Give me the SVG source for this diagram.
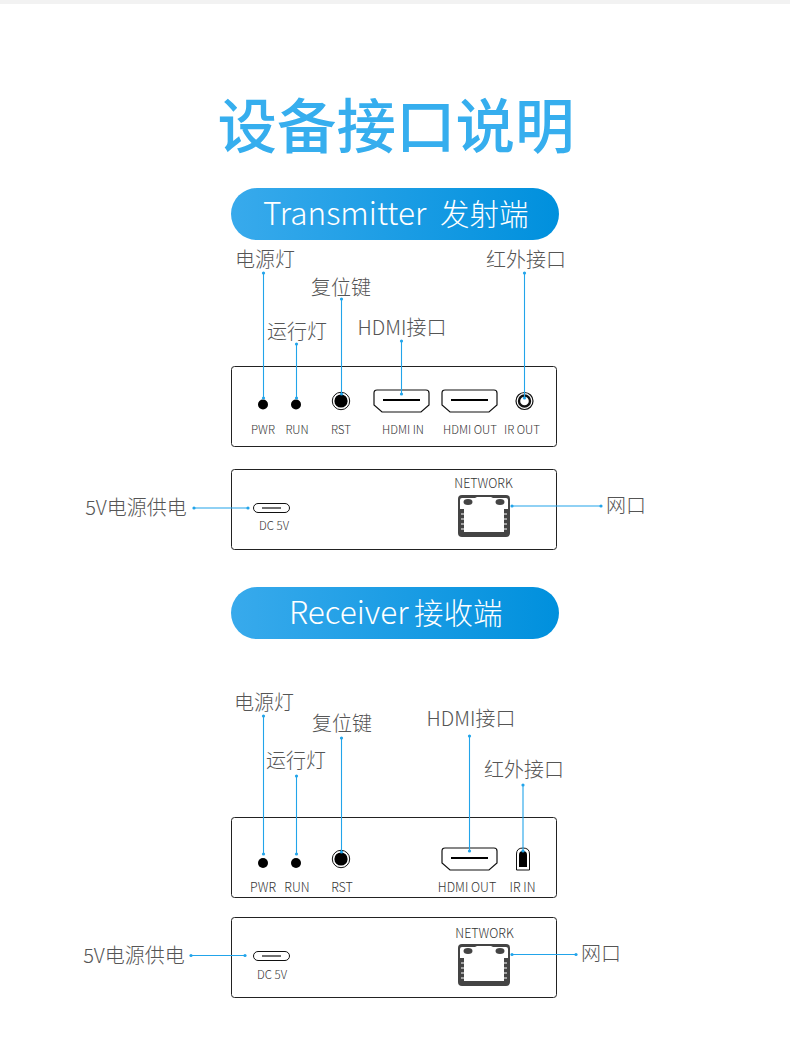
<svg xmlns="http://www.w3.org/2000/svg" width="790" height="1053" viewBox="0 0 790 1053">
<style>
text{font-family:"Noto Sans CJK SC","Noto Sans",sans-serif;text-anchor:middle}
.lab{font-size:20px;font-weight:300;fill:#555}
.sm{font-size:11.5px;font-weight:300;fill:#333}
.sm2{font-size:12.5px;font-weight:300;fill:#333}
.pill{font-size:31.5px;font-weight:300;fill:#fff;text-anchor:start}
.cjk{font-size:29.5px}
.panel{fill:#fff;stroke:#222;stroke-width:1}
.hd{fill:#fff;stroke:#111;stroke-width:1.2}
.slot{stroke:#000;stroke-width:2;fill:none}
.conn{stroke:#22a4ea;stroke-width:1.1;fill:none;marker-start:url(#d);marker-end:url(#d)}
</style>
<defs>
<marker id="d" markerUnits="userSpaceOnUse" markerWidth="5" markerHeight="5" refX="2.5" refY="2.5"><circle cx="2.5" cy="2.5" r="1.6" fill="#22a4ea"/></marker>
<linearGradient id="g"><stop offset="0" stop-color="#38aaec"/><stop offset="1" stop-color="#0090dd"/></linearGradient>
<path id="hdmi" class="hd" d="M3 0H52Q55 0 55 3V15L47 22H8L0 15V3Q0 0 3 0Z"/>
<g id="rj">
<path d="M4 0H48Q52 0 52 4V38Q52 42 48 42H4Q0 42 0 38V4Q0 0 4 0Z" fill="#444"/>
<path d="M4 3H17L19 2H33L35 3H48Q50 3 50 5V14H46V37H6V14H2V5Q2 3 4 3Z" fill="#fff"/>
<ellipse cx="10" cy="7" rx="4.5" ry="3" fill="#444"/><ellipse cx="42" cy="7" rx="4.5" ry="3" fill="#444"/>
<path d="M3 19H6M3 24H6M3 29H6M3 34H6M46 19H49M46 24H49M46 29H49M46 34H49" stroke="#fff" stroke-width="1"/>
</g>
<g id="usbc"><rect x="0.5" y="0.5" width="36" height="9" rx="4.5" fill="#fff" stroke="#111"/><path d="M9 5H28" stroke="#111" stroke-width="1.2"/></g>
<g id="rst"><circle r="8.7" fill="#fff" stroke="#111" stroke-width="1"/><circle r="6.6" fill="#000"/></g>
</defs>
<rect width="790" height="1053" fill="#fff"/>
<rect width="790" height="4" fill="#f2f2f2"/>
<g id="title"><text x="396" y="148" fill="#36aeee" style="font-size:59.5px;font-weight:500">设备接口说明</text></g>

<g id="tx-header"><rect x="231" y="188" width="328" height="52" rx="26" fill="url(#g)"/><text class="pill" x="263" y="225">Transmitter<tspan class="cjk" x="440">发射端</tspan></text></g>
<g id="tx-front">
<rect class="panel" x="231.5" y="366.5" width="325" height="80" rx="3"/>
<circle cx="263" cy="404.5" r="5" fill="#000"/><text class="sm" x="263" y="434">PWR</text>
<circle cx="296" cy="404.5" r="5" fill="#000"/><text class="sm" x="297" y="434">RUN</text>
<use href="#rst" x="341" y="401"/><text class="sm" x="341" y="434">RST</text>
<use href="#hdmi" x="374" y="390"/><path class="slot" d="M383 400H420"/><text class="sm" x="403" y="434">HDMI IN</text>
<use href="#hdmi" x="442" y="390"/><path class="slot" d="M451 400H488"/><text class="sm" x="470" y="434">HDMI OUT</text>
<circle cx="524.5" cy="401" r="8.5" fill="#fff" stroke="#111" stroke-width="1.2"/><circle cx="524.5" cy="401" r="5.5" fill="none" stroke="#111" stroke-width="2.4"/><text class="sm" x="522" y="434">IR OUT</text>
</g>
<g id="tx-back">
<rect class="panel" x="231.5" y="469.5" width="325" height="80" rx="3"/>
<use href="#usbc" x="253" y="503"/><text class="sm" x="274" y="530">DC 5V</text>
<text class="sm2" x="483.5" y="488">NETWORK</text><use href="#rj" x="458" y="495"/>
</g>

<g id="rx-header"><rect x="231" y="587" width="328" height="52" rx="26" fill="url(#g)"/><text class="pill" x="289" y="624">Receiver<tspan class="cjk" x="414">接收端</tspan></text></g>
<g id="rx-front">
<rect class="panel" x="231.5" y="817.5" width="325" height="80" rx="3"/>
<circle cx="263" cy="863" r="5" fill="#000"/><text class="sm2" x="263" y="892">PWR</text>
<circle cx="296" cy="863" r="5" fill="#000"/><text class="sm2" x="297" y="892">RUN</text>
<use href="#rst" x="341" y="859"/><text class="sm2" x="342" y="892">RST</text>
<use href="#hdmi" x="442" y="848"/><path class="slot" d="M451 858H488"/><text class="sm2" x="467" y="892">HDMI OUT</text>
<path d="M516.5 870V854Q516.5 848 523 848Q529.5 848 529.5 854V870Z" fill="#fff" stroke="#111" stroke-width="1"/><path d="M519 867V855Q519 851 523 851Q527 851 527 855V867Z" fill="#000"/><text class="sm2" x="522.5" y="892">IR IN</text>
</g>
<g id="rx-back">
<rect class="panel" x="231.5" y="917.5" width="325" height="80" rx="3"/>
<use href="#usbc" x="253" y="951"/><text class="sm" x="272" y="979">DC 5V</text>
<text class="sm2" x="484.5" y="938">NETWORK</text><use href="#rj" x="458" y="944"/>
</g>

<g id="connectors">
<path class="conn" d="M263.5 273V398"/><path class="conn" d="M296.5 344V398"/><path class="conn" d="M341.5 299V394"/><path class="conn" d="M401.5 341V394"/><path class="conn" d="M524.5 273V398"/>
<path class="conn" d="M194 508H248"/><path class="conn" d="M512 506H601"/>
<path class="conn" d="M263.5 716V854"/><path class="conn" d="M296.5 776V854"/><path class="conn" d="M341.5 738V852"/><path class="conn" d="M469.5 736V851"/><path class="conn" d="M523 785V851"/>
<path class="conn" d="M191 955.5H245"/><path class="conn" d="M512 954.5H576"/>
</g>
<g id="labels">
<text class="lab" x="265" y="267">电源灯</text><text class="lab" x="341" y="295">复位键</text><text class="lab" x="297" y="339">运行灯</text><text class="lab" x="402" y="335">HDMI接口</text><text class="lab" x="526" y="267">红外接口</text><text class="lab" x="136" y="515">5V电源供电</text><text class="lab" x="626" y="513">网口</text>
<text class="lab" x="264" y="710">电源灯</text><text class="lab" x="342" y="731">复位键</text><text class="lab" x="296" y="768">运行灯</text><text class="lab" x="471" y="726">HDMI接口</text><text class="lab" x="524" y="777">红外接口</text><text class="lab" x="134" y="963">5V电源供电</text><text class="lab" x="601" y="961">网口</text>
</g>
</svg>
